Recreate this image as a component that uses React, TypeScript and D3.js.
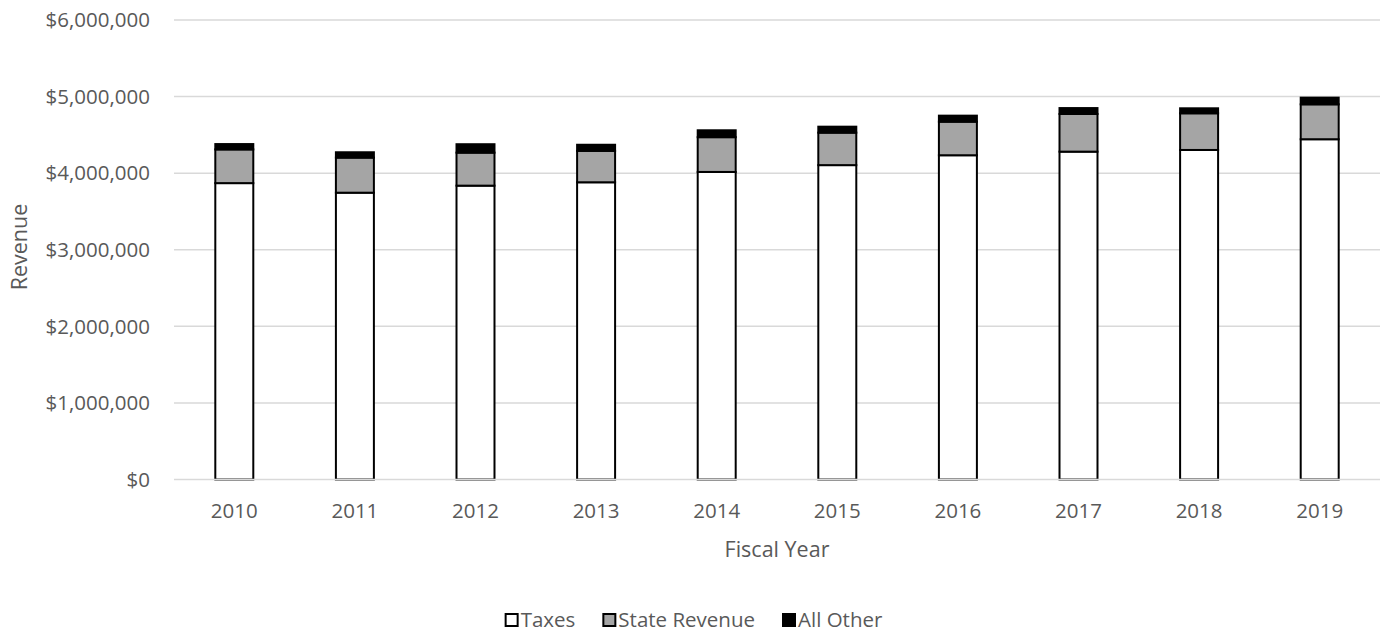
import React, { useEffect, useRef } from "react";
import * as d3 from "d3";

const years = ["2010", "2011", "2012", "2013", "2014", "2015", "2016", "2017", "2018", "2019"];
const taxes = [3870000, 3745000, 3837000, 3881000, 4016000, 4105000, 4234000, 4281000, 4303000, 4443000];
const stateRevenue = [440000, 458000, 431000, 410000, 454000, 424000, 438000, 492000, 479000, 456000];
const allOther = [70000, 70000, 110000, 80000, 90000, 78000, 79000, 77000, 65000, 87000];
const yTicks = [0, 1000000, 2000000, 3000000, 4000000, 5000000, 6000000];

const seriesKeys = ["Taxes", "State Revenue", "All Other"];
const seriesColors = ["#ffffff", "#a5a5a5", "#000000"];

const W = 1388;
const H = 634;
const FONT = "'Open Sans', 'Noto Sans', sans-serif";
const TEXT = "#595959";

export default function App() {
  const ref = useRef<SVGSVGElement>(null);

  useEffect(() => {
    const svg = d3.select(ref.current);
    svg.selectAll("*").remove();

    const rows = years.map((y, i) => ({
      year: y,
      Taxes: taxes[i],
      "State Revenue": stateRevenue[i],
      "All Other": allOther[i],
    }));

    const x = d3
      .scaleBand<string>()
      .domain(years)
      .range([174, 1380])
      .paddingInner(0.685)
      .paddingOuter(0.3425);

    const y = d3.scaleLinear().domain([0, 6000000]).range([479.5, 20]);

    // gridlines
    svg
      .append("g")
      .selectAll("line")
      .data(yTicks.filter((t) => t > 0))
      .join("line")
      .attr("x1", 174)
      .attr("x2", 1380)
      .attr("y1", (d) => y(d))
      .attr("y2", (d) => y(d))
      .attr("stroke", "#d9d9d9")
      .attr("stroke-width", 1.5);

    // y tick labels
    svg
      .append("g")
      .selectAll("text")
      .data(yTicks)
      .join("text")
      .attr("x", 150)
      .attr("y", (d) => y(d))
      .attr("dy", "0.35em")
      .attr("text-anchor", "end")
      .attr("font-family", FONT)
      .attr("font-size", 20.5)
      .attr("fill", TEXT)
      .text((d) => d3.format("$,")(d));

    const stack = d3.stack<any>().keys(seriesKeys);
    const series = stack(rows);

    svg
      .append("g")
      .selectAll("g")
      .data(series)
      .join("g")
      .attr("fill", (_, i) => seriesColors[i])
      .selectAll("rect")
      .data((s) => s)
      .join("rect")
      .attr("x", (d: any) => x(d.data.year)!)
      .attr("width", x.bandwidth())
      .attr("y", (d) => y(d[1]))
      .attr("height", (d) => y(d[0]) - y(d[1]))
      .attr("stroke", "#000")
      .attr("stroke-width", 2);

    // baseline
    svg
      .append("line")
      .attr("x1", 174)
      .attr("x2", 1380)
      .attr("y1", y(0))
      .attr("y2", y(0))
      .attr("stroke", "#d9d9d9")
      .attr("stroke-width", 1.5);

    // x tick labels
    svg
      .append("g")
      .selectAll("text")
      .data(years)
      .join("text")
      .attr("x", (d) => x(d)! + x.bandwidth() / 2)
      .attr("y", 518)
      .attr("text-anchor", "middle")
      .attr("font-family", FONT)
      .attr("font-size", 20.5)
      .attr("fill", TEXT)
      .text((d) => d);

    // axis titles
    svg
      .append("text")
      .attr("x", 777)
      .attr("y", 557)
      .attr("text-anchor", "middle")
      .attr("font-family", FONT)
      .attr("font-size", 21.5)
      .attr("fill", TEXT)
      .text("Fiscal Year");

    svg
      .append("text")
      .attr("transform", "translate(27,247) rotate(-90)")
      .attr("text-anchor", "middle")
      .attr("font-family", FONT)
      .attr("font-size", 21.5)
      .attr("fill", TEXT)
      .text("Revenue");

    // legend
    const legend = svg.append("g");
    let cx = 0;
    seriesKeys.forEach((k, i) => {
      const item = legend.append("g").attr("transform", `translate(${cx},0)`);
      item
        .append("rect")
        .attr("x", 0)
        .attr("y", -13)
        .attr("width", 12)
        .attr("height", 12)
        .attr("fill", seriesColors[i])
        .attr("stroke", "#000")
        .attr("stroke-width", 2);
      const t = item
        .append("text")
        .attr("x", 15)
        .attr("y", 0)
        .attr("font-family", FONT)
        .attr("font-size", 20.5)
        .attr("fill", TEXT)
        .text(k);
      const len = (t.node() as SVGTextElement).getComputedTextLength();
      cx += 15 + len + 28;
    });
    const total = cx - 28;
    legend.attr("transform", `translate(${W / 2 - total / 2},627)`);
  }, []);

  return (
    <svg
      ref={ref}
      width={W}
      height={H}
      style={{ position: "absolute", left: 0, top: 0, background: "#fff" }}
    />
  );
}
